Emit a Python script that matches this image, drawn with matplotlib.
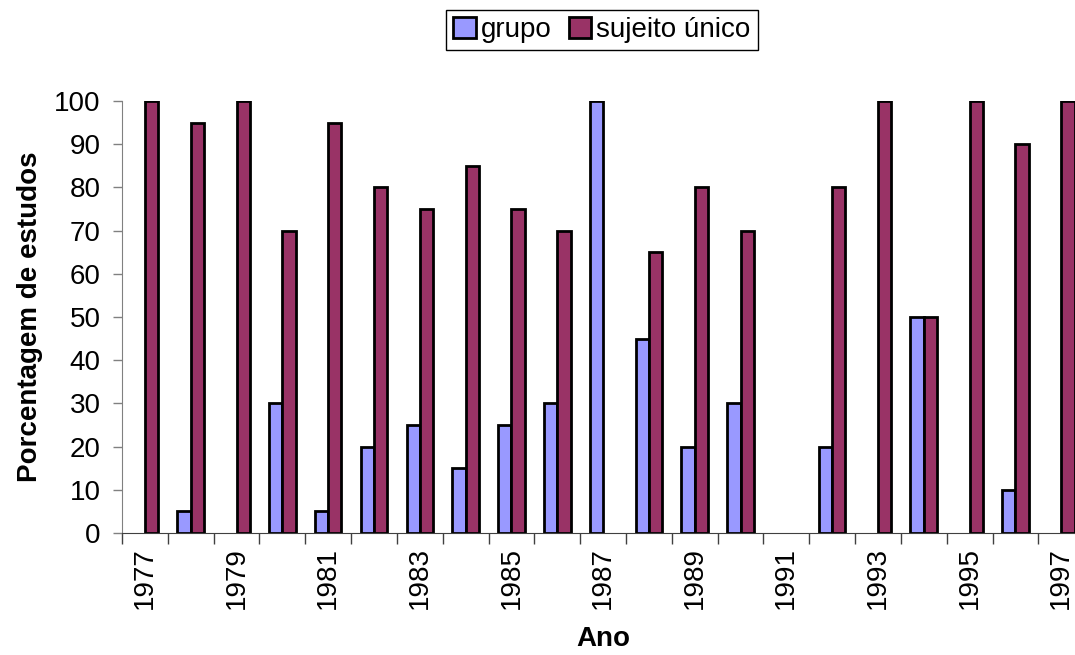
import numpy as np
import matplotlib
matplotlib.use("Agg")
from matplotlib import pyplot as plt

plt.rcParams['font.family'] = ['Liberation Sans', 'DejaVu Sans']

anos = list(range(1977, 1998))
grupo = [0, 5, 0, 30, 5, 20, 25, 15, 25, 30, 100, 45, 20, 30, 0, 20, 0, 50, 0, 10, 0]
sujeito_unico = [100, 95, 100, 70, 95, 80, 75, 85, 75, 70, 0, 65, 80, 70, 0, 80, 100, 50, 100, 90, 100]

fig = plt.figure(figsize=(10.75, 6.55), dpi=100)
ax = fig.add_axes([0.1135, 0.1863, 0.895, 0.6595])

x = np.arange(len(anos))
w = 0.29
# zero values are not drawn (no outline on the axis)
g = np.where(np.array(grupo) == 0, np.nan, grupo)
s = np.where(np.array(sujeito_unico) == 0, np.nan, sujeito_unico)
ax.bar(x - w/2, g, w, color='#9999FF', edgecolor='black', linewidth=2, label='grupo')
ax.bar(x + w/2, s, w, color='#993366', edgecolor='black', linewidth=2, label='sujeito único')

ax.set_xlim(-0.5, len(anos) - 0.5)
ax.set_ylim(0, 100)
ax.set_yticks(range(0, 101, 10))
ax.tick_params(axis='y', labelsize=20, length=6.5, width=1, color='#808080', direction='out', pad=9)

ax.set_xticks(x[::2])
ax.set_xticklabels([str(a) for a in anos[::2]], rotation=90)
ax.set_xticks(np.arange(-0.5, len(anos), 1), minor=True)
ax.tick_params(axis='x', which='major', length=0, labelsize=20, pad=10)
ax.tick_params(axis='x', which='minor', length=8, width=1, color='#404040', direction='out')

for sp in ['top', 'right']:
    ax.spines[sp].set_visible(False)
ax.spines['left'].set_color('#808080')
ax.spines['bottom'].set_color('#404040')

ax.set_ylabel('Porcentagem de estudos', fontsize=20, fontweight='bold', labelpad=8)
ax.set_xlabel('Ano', fontsize=20, fontweight='bold', labelpad=12)

fig.legend(loc='upper center', bbox_to_anchor=(0.56, 0.985), ncol=2, fontsize=20,
           handlelength=0.8, handleheight=0.8, handletextpad=0.2, columnspacing=0.6,
           fancybox=False, edgecolor='black', framealpha=1, borderpad=0.25, borderaxespad=0)

fig.savefig('out.png', dpi=100)
